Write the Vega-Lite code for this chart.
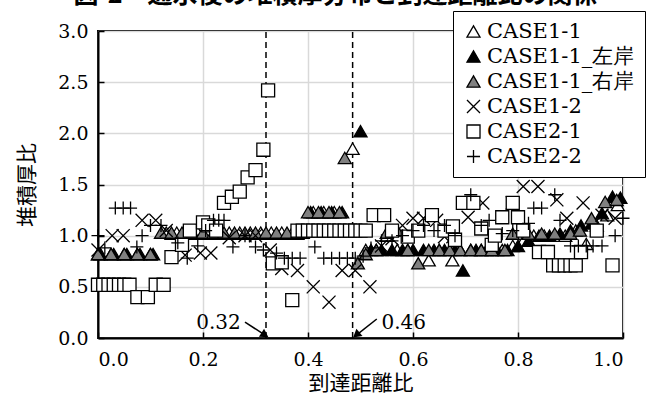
{
  "$schema": "https://vega.github.io/schema/vega-lite/v6.json",
  "autosize": "none",
  "width": 525,
  "height": 307,
  "padding": {"left": 98, "top": 31, "right": 31, "bottom": 58},
  "background": "white",
  "title": {"text": "図-2　通水後の堆積厚分布と到達距離比の関係", "frame": "group", "anchor": "middle", "offset": -17, "baseline": "alphabetic", "fontSize": 25, "font": "Noto Sans CJK JP", "fontWeight": "bold", "color": "black", "dx": -25},
  "config": {
    "view": {"stroke": "black", "strokeWidth": 2},
    "axis": {
      "labelFont": "DejaVu Serif", "labelFontSize": 19, "labelColor": "black",
      "titleFont": "Noto Sans CJK JP", "titleFontSize": 21, "titleFontWeight": "normal", "titleColor": "black",
      "grid": true, "gridColor": "#d9d9d9", "gridWidth": 1.5,
      "domainColor": "black", "domainWidth": 2, "tickColor": "black", "tickWidth": 1.5, "tickSize": -6
    }
  },
  "datasets": {
    "pts": [
      {"s":"CASE1-1","x":0,"y":0.82},{"s":"CASE1-1","x":0.025,"y":0.82},{"s":"CASE1-1","x":0.05,"y":0.82},{"s":"CASE1-1","x":0.075,"y":0.82},{"s":"CASE1-1","x":0.1,"y":0.82},
      {"s":"CASE1-1","x":0.13,"y":1.03},{"s":"CASE1-1","x":0.15,"y":1.03},{"s":"CASE1-1","x":0.17,"y":1.03},{"s":"CASE1-1","x":0.19,"y":1.03},{"s":"CASE1-1","x":0.21,"y":1.03},{"s":"CASE1-1","x":0.23,"y":1.03},{"s":"CASE1-1","x":0.25,"y":1.03},{"s":"CASE1-1","x":0.27,"y":1.03},{"s":"CASE1-1","x":0.29,"y":1.03},{"s":"CASE1-1","x":0.31,"y":1.03},{"s":"CASE1-1","x":0.33,"y":1.03},{"s":"CASE1-1","x":0.35,"y":1.03},{"s":"CASE1-1","x":0.37,"y":1.03},{"s":"CASE1-1","x":0.39,"y":1.03},
      {"s":"CASE1-1","x":0.41,"y":1.23},{"s":"CASE1-1","x":0.43,"y":1.23},{"s":"CASE1-1","x":0.45,"y":1.23},{"s":"CASE1-1","x":0.485,"y":1.85},
      {"s":"CASE1-1","x":0.51,"y":0.86},{"s":"CASE1-1","x":0.53,"y":0.86},{"s":"CASE1-1","x":0.55,"y":1.0},{"s":"CASE1-1","x":0.57,"y":0.86},{"s":"CASE1-1","x":0.59,"y":0.86},{"s":"CASE1-1","x":0.63,"y":0.76},{"s":"CASE1-1","x":0.65,"y":0.86},{"s":"CASE1-1","x":0.675,"y":0.76},{"s":"CASE1-1","x":0.69,"y":0.86},{"s":"CASE1-1","x":0.71,"y":0.86},{"s":"CASE1-1","x":0.73,"y":0.86},{"s":"CASE1-1","x":0.75,"y":0.86},{"s":"CASE1-1","x":0.77,"y":0.86},{"s":"CASE1-1","x":0.79,"y":0.9},{"s":"CASE1-1","x":0.81,"y":0.95},{"s":"CASE1-1","x":0.83,"y":1.0},{"s":"CASE1-1","x":0.85,"y":1.0},{"s":"CASE1-1","x":0.87,"y":1.0},{"s":"CASE1-1","x":0.89,"y":1.0},{"s":"CASE1-1","x":0.91,"y":1.05},{"s":"CASE1-1","x":0.93,"y":0.92},{"s":"CASE1-1","x":0.95,"y":1.1},{"s":"CASE1-1","x":0.97,"y":1.2},{"s":"CASE1-1","x":0.99,"y":1.3},

      {"s":"CASE1-1_左岸","x":0.005,"y":0.82},{"s":"CASE1-1_左岸","x":0.03,"y":0.82},{"s":"CASE1-1_左岸","x":0.055,"y":0.82},{"s":"CASE1-1_左岸","x":0.08,"y":0.82},{"s":"CASE1-1_左岸","x":0.105,"y":0.82},
      {"s":"CASE1-1_左岸","x":0.14,"y":1.02},{"s":"CASE1-1_左岸","x":0.16,"y":1.02},{"s":"CASE1-1_左岸","x":0.18,"y":1.02},{"s":"CASE1-1_左岸","x":0.2,"y":1.02},{"s":"CASE1-1_左岸","x":0.22,"y":1.02},{"s":"CASE1-1_左岸","x":0.24,"y":1.02},{"s":"CASE1-1_左岸","x":0.26,"y":1.02},{"s":"CASE1-1_左岸","x":0.28,"y":1.02},{"s":"CASE1-1_左岸","x":0.3,"y":1.02},{"s":"CASE1-1_左岸","x":0.32,"y":1.02},{"s":"CASE1-1_左岸","x":0.34,"y":1.02},{"s":"CASE1-1_左岸","x":0.36,"y":1.02},{"s":"CASE1-1_左岸","x":0.38,"y":1.02},
      {"s":"CASE1-1_左岸","x":0.405,"y":1.23},{"s":"CASE1-1_左岸","x":0.425,"y":1.23},{"s":"CASE1-1_左岸","x":0.445,"y":1.23},{"s":"CASE1-1_左岸","x":0.465,"y":1.23},{"s":"CASE1-1_左岸","x":0.5,"y":2.02},
      {"s":"CASE1-1_左岸","x":0.52,"y":0.86},{"s":"CASE1-1_左岸","x":0.54,"y":0.86},{"s":"CASE1-1_左岸","x":0.56,"y":0.86},{"s":"CASE1-1_左岸","x":0.58,"y":0.86},{"s":"CASE1-1_左岸","x":0.6,"y":0.86},{"s":"CASE1-1_左岸","x":0.62,"y":0.86},{"s":"CASE1-1_左岸","x":0.64,"y":0.86},{"s":"CASE1-1_左岸","x":0.66,"y":0.86},{"s":"CASE1-1_左岸","x":0.68,"y":0.86},{"s":"CASE1-1_左岸","x":0.695,"y":0.66},{"s":"CASE1-1_左岸","x":0.72,"y":0.86},{"s":"CASE1-1_左岸","x":0.74,"y":0.86},{"s":"CASE1-1_左岸","x":0.76,"y":0.86},{"s":"CASE1-1_左岸","x":0.78,"y":0.86},{"s":"CASE1-1_左岸","x":0.8,"y":0.9},{"s":"CASE1-1_左岸","x":0.82,"y":0.95},{"s":"CASE1-1_左岸","x":0.84,"y":1.0},{"s":"CASE1-1_左岸","x":0.86,"y":1.0},{"s":"CASE1-1_左岸","x":0.88,"y":1.02},{"s":"CASE1-1_左岸","x":0.9,"y":1.05},{"s":"CASE1-1_左岸","x":0.92,"y":1.1},{"s":"CASE1-1_左岸","x":0.94,"y":1.12},{"s":"CASE1-1_左岸","x":0.96,"y":1.22},{"s":"CASE1-1_左岸","x":0.98,"y":1.38},{"s":"CASE1-1_左岸","x":0.995,"y":1.37},

      {"s":"CASE1-1_右岸","x":0,"y":0.82},{"s":"CASE1-1_右岸","x":0.025,"y":0.82},{"s":"CASE1-1_右岸","x":0.05,"y":0.82},{"s":"CASE1-1_右岸","x":0.075,"y":0.82},{"s":"CASE1-1_右岸","x":0.1,"y":0.82},
      {"s":"CASE1-1_右岸","x":0.12,"y":1.03},{"s":"CASE1-1_右岸","x":0.14,"y":1.03},{"s":"CASE1-1_右岸","x":0.16,"y":1.03},{"s":"CASE1-1_右岸","x":0.18,"y":1.03},{"s":"CASE1-1_右岸","x":0.2,"y":1.03},{"s":"CASE1-1_右岸","x":0.22,"y":1.03},{"s":"CASE1-1_右岸","x":0.24,"y":1.03},{"s":"CASE1-1_右岸","x":0.26,"y":1.03},{"s":"CASE1-1_右岸","x":0.28,"y":1.03},{"s":"CASE1-1_右岸","x":0.3,"y":1.03},{"s":"CASE1-1_右岸","x":0.32,"y":1.03},{"s":"CASE1-1_右岸","x":0.34,"y":1.03},{"s":"CASE1-1_右岸","x":0.36,"y":1.03},{"s":"CASE1-1_右岸","x":0.38,"y":1.03},
      {"s":"CASE1-1_右岸","x":0.4,"y":1.23},{"s":"CASE1-1_右岸","x":0.42,"y":1.23},{"s":"CASE1-1_右岸","x":0.44,"y":1.23},{"s":"CASE1-1_右岸","x":0.46,"y":1.23},{"s":"CASE1-1_右岸","x":0.47,"y":1.76},
      {"s":"CASE1-1_右岸","x":0.495,"y":0.73},{"s":"CASE1-1_右岸","x":0.51,"y":0.82},{"s":"CASE1-1_右岸","x":0.53,"y":0.86},{"s":"CASE1-1_右岸","x":0.55,"y":1.03},{"s":"CASE1-1_右岸","x":0.57,"y":1.05},{"s":"CASE1-1_右岸","x":0.59,"y":0.86},{"s":"CASE1-1_右岸","x":0.61,"y":0.73},{"s":"CASE1-1_右岸","x":0.63,"y":0.86},{"s":"CASE1-1_右岸","x":0.65,"y":0.86},{"s":"CASE1-1_右岸","x":0.67,"y":0.86},{"s":"CASE1-1_右岸","x":0.69,"y":0.86},{"s":"CASE1-1_右岸","x":0.71,"y":0.86},{"s":"CASE1-1_右岸","x":0.73,"y":0.86},{"s":"CASE1-1_右岸","x":0.75,"y":0.86},{"s":"CASE1-1_右岸","x":0.775,"y":0.86},{"s":"CASE1-1_右岸","x":0.79,"y":1.02},{"s":"CASE1-1_右岸","x":0.82,"y":1.02},{"s":"CASE1-1_右岸","x":0.845,"y":1.02},{"s":"CASE1-1_右岸","x":0.87,"y":1.02},{"s":"CASE1-1_右岸","x":0.9,"y":1.02},{"s":"CASE1-1_右岸","x":0.918,"y":1.05},{"s":"CASE1-1_右岸","x":0.94,"y":1.17},{"s":"CASE1-1_右岸","x":0.966,"y":1.33},{"s":"CASE1-1_右岸","x":0.988,"y":1.35},

      {"s":"CASE1-2","x":0,"y":0.86},{"s":"CASE1-2","x":0.027,"y":1.0},{"s":"CASE1-2","x":0.048,"y":1.0},{"s":"CASE1-2","x":0.084,"y":1.15},{"s":"CASE1-2","x":0.11,"y":1.15},{"s":"CASE1-2","x":0.13,"y":1.05},{"s":"CASE1-2","x":0.166,"y":0.81},{"s":"CASE1-2","x":0.195,"y":0.83},{"s":"CASE1-2","x":0.215,"y":0.83},{"s":"CASE1-2","x":0.25,"y":0.98},{"s":"CASE1-2","x":0.28,"y":1.0},{"s":"CASE1-2","x":0.3,"y":1.0},{"s":"CASE1-2","x":0.328,"y":0.86},{"s":"CASE1-2","x":0.35,"y":0.68},{"s":"CASE1-2","x":0.38,"y":0.66},{"s":"CASE1-2","x":0.41,"y":0.5},{"s":"CASE1-2","x":0.44,"y":0.35},{"s":"CASE1-2","x":0.465,"y":0.66},{"s":"CASE1-2","x":0.49,"y":0.66},{"s":"CASE1-2","x":0.518,"y":0.5},{"s":"CASE1-2","x":0.54,"y":0.9},{"s":"CASE1-2","x":0.56,"y":0.97},{"s":"CASE1-2","x":0.58,"y":1.1},{"s":"CASE1-2","x":0.6,"y":1.17},{"s":"CASE1-2","x":0.62,"y":1.17},{"s":"CASE1-2","x":0.645,"y":1.15},{"s":"CASE1-2","x":0.66,"y":0.99},{"s":"CASE1-2","x":0.676,"y":0.99},{"s":"CASE1-2","x":0.705,"y":1.18},{"s":"CASE1-2","x":0.733,"y":1.32},{"s":"CASE1-2","x":0.76,"y":1.66},{"s":"CASE1-2","x":0.789,"y":1.32},{"s":"CASE1-2","x":0.81,"y":1.48},{"s":"CASE1-2","x":0.838,"y":1.48},{"s":"CASE1-2","x":0.874,"y":1.35},{"s":"CASE1-2","x":0.893,"y":1.17},{"s":"CASE1-2","x":0.924,"y":1.32},{"s":"CASE1-2","x":0.96,"y":1.2},{"s":"CASE1-2","x":0.985,"y":1.17},

      {"s":"CASE2-1","x":0,"y":0.52},{"s":"CASE2-1","x":0.01,"y":0.52},{"s":"CASE2-1","x":0.02,"y":0.52},{"s":"CASE2-1","x":0.03,"y":0.52},{"s":"CASE2-1","x":0.04,"y":0.52},{"s":"CASE2-1","x":0.05,"y":0.52},{"s":"CASE2-1","x":0.06,"y":0.52},{"s":"CASE2-1","x":0.075,"y":0.4},{"s":"CASE2-1","x":0.095,"y":0.4},{"s":"CASE2-1","x":0.11,"y":0.52},{"s":"CASE2-1","x":0.125,"y":0.52},{"s":"CASE2-1","x":0.14,"y":0.79},{"s":"CASE2-1","x":0.16,"y":0.91},{"s":"CASE2-1","x":0.175,"y":1.05},{"s":"CASE2-1","x":0.2,"y":1.13},{"s":"CASE2-1","x":0.21,"y":1.1},{"s":"CASE2-1","x":0.225,"y":1.05},{"s":"CASE2-1","x":0.24,"y":1.32},{"s":"CASE2-1","x":0.255,"y":1.38},{"s":"CASE2-1","x":0.27,"y":1.43},{"s":"CASE2-1","x":0.285,"y":1.57},{"s":"CASE2-1","x":0.3,"y":1.64},{"s":"CASE2-1","x":0.315,"y":1.84},{"s":"CASE2-1","x":0.324,"y":2.42},{"s":"CASE2-1","x":0.333,"y":0.73},{"s":"CASE2-1","x":0.35,"y":0.74},{"s":"CASE2-1","x":0.37,"y":0.37},
      {"s":"CASE2-1","x":0.38,"y":1.05},{"s":"CASE2-1","x":0.39,"y":1.05},{"s":"CASE2-1","x":0.4,"y":1.05},{"s":"CASE2-1","x":0.41,"y":1.05},{"s":"CASE2-1","x":0.42,"y":1.05},{"s":"CASE2-1","x":0.43,"y":1.05},{"s":"CASE2-1","x":0.44,"y":1.05},{"s":"CASE2-1","x":0.45,"y":1.05},{"s":"CASE2-1","x":0.46,"y":1.05},{"s":"CASE2-1","x":0.47,"y":1.05},{"s":"CASE2-1","x":0.48,"y":1.05},{"s":"CASE2-1","x":0.49,"y":1.05},{"s":"CASE2-1","x":0.5,"y":1.05},{"s":"CASE2-1","x":0.51,"y":1.05},
      {"s":"CASE2-1","x":0.525,"y":1.2},{"s":"CASE2-1","x":0.545,"y":1.2},{"s":"CASE2-1","x":0.56,"y":1.05},{"s":"CASE2-1","x":0.59,"y":0.99},{"s":"CASE2-1","x":0.61,"y":1.05},{"s":"CASE2-1","x":0.636,"y":1.2},{"s":"CASE2-1","x":0.66,"y":1.05},{"s":"CASE2-1","x":0.676,"y":1.09},{"s":"CASE2-1","x":0.68,"y":0.96},{"s":"CASE2-1","x":0.695,"y":1.32},{"s":"CASE2-1","x":0.715,"y":1.32},{"s":"CASE2-1","x":0.73,"y":1.07},{"s":"CASE2-1","x":0.75,"y":0.91},{"s":"CASE2-1","x":0.756,"y":1.0},{"s":"CASE2-1","x":0.77,"y":1.18},{"s":"CASE2-1","x":0.79,"y":1.32},{"s":"CASE2-1","x":0.8,"y":1.18},{"s":"CASE2-1","x":0.81,"y":1.05},{"s":"CASE2-1","x":0.84,"y":0.84},{"s":"CASE2-1","x":0.857,"y":0.84},{"s":"CASE2-1","x":0.867,"y":0.71},{"s":"CASE2-1","x":0.878,"y":0.71},{"s":"CASE2-1","x":0.889,"y":0.71},{"s":"CASE2-1","x":0.9,"y":0.71},{"s":"CASE2-1","x":0.91,"y":0.71},{"s":"CASE2-1","x":0.92,"y":0.84},{"s":"CASE2-1","x":0.95,"y":1.05},{"s":"CASE2-1","x":0.98,"y":0.71},

      {"s":"CASE2-2","x":0,"y":1.0},{"s":"CASE2-2","x":0.013,"y":0.88},{"s":"CASE2-2","x":0.033,"y":1.27},{"s":"CASE2-2","x":0.048,"y":1.27},{"s":"CASE2-2","x":0.062,"y":1.27},{"s":"CASE2-2","x":0.074,"y":0.89},{"s":"CASE2-2","x":0.084,"y":1.0},{"s":"CASE2-2","x":0.1,"y":1.1},{"s":"CASE2-2","x":0.12,"y":1.1},{"s":"CASE2-2","x":0.152,"y":0.93},{"s":"CASE2-2","x":0.17,"y":0.78},{"s":"CASE2-2","x":0.19,"y":0.9},{"s":"CASE2-2","x":0.205,"y":1.05},{"s":"CASE2-2","x":0.22,"y":1.15},{"s":"CASE2-2","x":0.23,"y":1.15},{"s":"CASE2-2","x":0.24,"y":1.15},{"s":"CASE2-2","x":0.257,"y":0.89},{"s":"CASE2-2","x":0.28,"y":1.0},{"s":"CASE2-2","x":0.3,"y":0.89},{"s":"CASE2-2","x":0.315,"y":0.86},{"s":"CASE2-2","x":0.34,"y":0.83},{"s":"CASE2-2","x":0.355,"y":0.78},{"s":"CASE2-2","x":0.37,"y":0.78},{"s":"CASE2-2","x":0.385,"y":0.78},{"s":"CASE2-2","x":0.413,"y":0.89},{"s":"CASE2-2","x":0.43,"y":0.78},{"s":"CASE2-2","x":0.445,"y":0.78},{"s":"CASE2-2","x":0.46,"y":0.78},{"s":"CASE2-2","x":0.475,"y":0.78},{"s":"CASE2-2","x":0.49,"y":0.78},{"s":"CASE2-2","x":0.505,"y":0.8},{"s":"CASE2-2","x":0.52,"y":0.88},{"s":"CASE2-2","x":0.54,"y":0.95},{"s":"CASE2-2","x":0.56,"y":0.95},{"s":"CASE2-2","x":0.58,"y":1.0},{"s":"CASE2-2","x":0.6,"y":1.05},{"s":"CASE2-2","x":0.62,"y":1.1},{"s":"CASE2-2","x":0.64,"y":1.05},{"s":"CASE2-2","x":0.66,"y":1.1},{"s":"CASE2-2","x":0.68,"y":1.0},{"s":"CASE2-2","x":0.71,"y":1.4},{"s":"CASE2-2","x":0.73,"y":1.1},{"s":"CASE2-2","x":0.745,"y":1.15},{"s":"CASE2-2","x":0.77,"y":1.02},{"s":"CASE2-2","x":0.79,"y":1.05},{"s":"CASE2-2","x":0.82,"y":1.12},{"s":"CASE2-2","x":0.83,"y":1.27},{"s":"CASE2-2","x":0.845,"y":1.27},{"s":"CASE2-2","x":0.87,"y":1.4},{"s":"CASE2-2","x":0.88,"y":1.15},{"s":"CASE2-2","x":0.9,"y":0.9},{"s":"CASE2-2","x":0.915,"y":0.9},{"s":"CASE2-2","x":0.93,"y":0.9},{"s":"CASE2-2","x":0.943,"y":0.9},{"s":"CASE2-2","x":0.96,"y":0.9},{"s":"CASE2-2","x":0.985,"y":1.0},{"s":"CASE2-2","x":1.0,"y":1.17}
    ]
  },
  "layer": [
    {
      "data": {"values": [{"x": 0.32}, {"x": 0.485}]},
      "mark": {"type": "rule", "color": "black", "strokeWidth": 1.5, "strokeDash": [6, 4]},
      "encoding": {
        "x": {"field": "x", "type": "quantitative"},
        "y": {"datum": 0, "type": "quantitative"},
        "y2": {"datum": 3}
      }
    },
    {
      "data": {"name": "pts"},
      "mark": {"type": "point", "opacity": 1, "strokeWidth": 1.3, "size": 170},
      "encoding": {
        "x": {"field": "x", "type": "quantitative", "scale": {"domain": [0, 1], "nice": false},
              "axis": {"values": [0, 0.2, 0.4, 0.6, 0.8, 1.0], "format": ".1f", "title": "到達距離比", "labelPadding": 18, "titlePadding": 3}},
        "y": {"field": "y", "type": "quantitative", "scale": {"domain": [0, 3], "nice": false},
              "axis": {"values": [0, 0.5, 1, 1.5, 2, 2.5, 3], "format": ".1f", "title": "堆積厚比", "labelPadding": 16, "titlePadding": 20}},
        "shape": {"field": "s", "type": "nominal",
                  "scale": {"domain": ["CASE1-1", "CASE1-1_左岸", "CASE1-1_右岸", "CASE1-2", "CASE2-1", "CASE2-2"],
                            "range": ["triangle-up", "triangle-up", "triangle-up", "M-1,-1L1,1M-1,1L1,-1", "square", "M-1,0L1,0M0,-1L0,1"]},
                  "legend": {"title": null, "orient": "none", "legendX": 355, "legendY": -20, "fillColor": "white", "strokeColor": "black", "padding": 10, "rowPadding": 3, "labelFontSize": 21, "labelFont": "DejaVu Serif", "labelColor": "black", "labelOffset": 3, "labelLimit": 300, "symbolSize": 170, "symbolStrokeWidth": 1.3}},
        "fill": {"field": "s", "type": "nominal",
                 "scale": {"domain": ["CASE1-1", "CASE1-1_左岸", "CASE1-1_右岸", "CASE1-2", "CASE2-1", "CASE2-2"],
                           "range": ["white", "black", "#808080", "transparent", "white", "transparent"]},
                 "legend": {"title": null, "orient": "none", "legendX": 355, "legendY": -20, "fillColor": "white", "strokeColor": "black", "padding": 10, "rowPadding": 3, "labelFontSize": 21, "labelFont": "DejaVu Serif", "labelColor": "black", "labelOffset": 3, "labelLimit": 300, "symbolSize": 170, "symbolStrokeWidth": 1.3}},
        "stroke": {"field": "s", "type": "nominal",
                   "scale": {"domain": ["CASE1-1", "CASE1-1_左岸", "CASE1-1_右岸", "CASE1-2", "CASE2-1", "CASE2-2"],
                             "range": ["black", "black", "black", "black", "black", "black"]},
                   "legend": {"title": null, "orient": "none", "legendX": 355, "legendY": -20, "fillColor": "white", "strokeColor": "black", "padding": 10, "rowPadding": 3, "labelFontSize": 21, "labelFont": "DejaVu Serif", "labelColor": "black", "labelOffset": 3, "labelLimit": 300, "symbolSize": 170, "symbolStrokeWidth": 1.3}}
      }
    },
    {
      "data": {"values": [{"x": 0.28, "y": 0.156, "x2": 0.316, "y2": 0.035}, {"x": 0.531, "y": 0.186, "x2": 0.494, "y2": 0.035}]},
      "mark": {"type": "rule", "color": "black", "strokeWidth": 1.5},
      "encoding": {
        "x": {"field": "x", "type": "quantitative"},
        "y": {"field": "y", "type": "quantitative"},
        "x2": {"field": "x2"},
        "y2": {"field": "y2"}
      }
    },
    {
      "data": {"values": [{"x": 0.318, "y": 0.03, "a": 123}, {"x": 0.492, "y": 0.03, "a": 230}]},
      "mark": {"type": "point", "shape": "triangle-up", "filled": true, "color": "black", "opacity": 1, "size": 90},
      "encoding": {
        "x": {"field": "x", "type": "quantitative"},
        "y": {"field": "y", "type": "quantitative"},
        "angle": {"field": "a", "type": "quantitative", "scale": null}
      }
    },
    {
      "data": {"values": [{"x": 0.272, "y": 0.15, "t": "0.32"}]},
      "mark": {"type": "text", "font": "DejaVu Serif", "fontSize": 20, "color": "black", "baseline": "middle", "align": "right"},
      "encoding": {
        "x": {"field": "x", "type": "quantitative"},
        "y": {"field": "y", "type": "quantitative"},
        "text": {"field": "t"}
      }
    },
    {
      "data": {"values": [{"x": 0.54, "y": 0.15, "t": "0.46"}]},
      "mark": {"type": "text", "font": "DejaVu Serif", "fontSize": 20, "color": "black", "baseline": "middle", "align": "left"},
      "encoding": {
        "x": {"field": "x", "type": "quantitative"},
        "y": {"field": "y", "type": "quantitative"},
        "text": {"field": "t"}
      }
    }
  ]
}
